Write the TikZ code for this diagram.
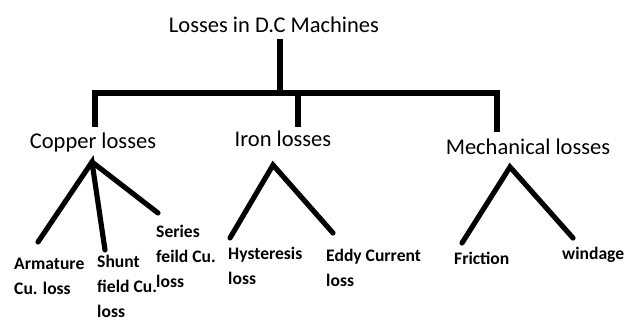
\documentclass[tikz,border=0pt]{standalone}
\usepackage{fontspec}
\setmainfont{Carlito}
\tikzset{
	head/.style={inner sep=0pt, font=\fontsize{19.2}{23}\selectfont},
	leaf/.style={inner sep=0pt, anchor=west, align=left, font=\bfseries\fontsize{15}{21.3}\selectfont},
	branch/.style={line width=4.4pt, line cap=round, line join=miter}
}

\begin{document}
\begin{tikzpicture}[x=0.03cm, y=-0.03cm]
			%%%%% START %%%%%
			\useasboundingbox (0, 0) rectangle (627, 320);
			
			\node[head] (root) at (274, 25) {Losses in D.C Machines};
			
			\node[head] (copper) at (93, 143) {Copper losses};
			\node[head] (iron) at (283, 139) {Iron losses};
			\node[head] (mech) at (528, 147) {Mechanical losses};
			
			\coordinate (stem) at (280, 93);
			\coordinate (barL) at (95, 93);
			\coordinate (barM) at (298, 93);
			\coordinate (barR) at (497, 93);
			
			\draw[branch, line cap=butt] (root.south -| stem) ++(0, 6) -- (stem);
			\draw[branch, line cap=butt] (95, 127) -- (barL) -- (barR) -- (497, 132);
			\draw[branch, line cap=butt] (barM) -- (298, 127);
			
			%%%%% copper
			\coordinate (cuTop) at (92, 162);
			\coordinate (cuA) at (38, 242);
			\coordinate (cuB) at (105, 250);
			\coordinate (cuC) at (158, 213);
			\draw[branch] (cuA) -- (cuTop) -- (cuB);
			\draw[branch] (cuTop) -- (cuC);
			
			\node[leaf] (arm) at (14, 276.5) {Armature\\Cu. loss};
			\node[leaf] (shunt) at (97, 286) {Shunt\\field Cu.\\loss};
			\node[leaf] (series) at (156, 256.5) {Series\\feild Cu.\\loss};
			
			%%%%% iron
			\coordinate (feTop) at (273, 165);
			\coordinate (feA) at (230, 238);
			\coordinate (feB) at (333, 233);
			\draw[branch] (feA) -- (feTop) -- (feB);
			
			\node[leaf] (hyst) at (228, 265.5) {Hysteresis\\loss};
			\node[leaf] (eddy) at (326, 267.5) {Eddy Current\\loss};
			
			%%%%% mechanical
			\coordinate (meTop) at (510, 167);
			\coordinate (meA) at (462, 243);
			\coordinate (meB) at (573, 238);
			\draw[branch] (meA) -- (meTop) -- (meB);
			
			\node[leaf] (fric) at (454, 258) {Friction};
			\node[leaf] (wind) at (562, 255) {windage};
			
			%%%%% END %%%%%
\end{tikzpicture}
\end{document}
